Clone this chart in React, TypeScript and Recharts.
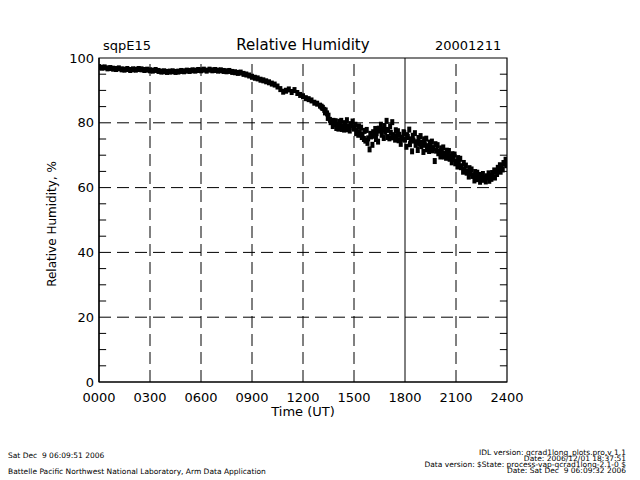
import React from "react";
import {
  ScatterChart,
  Scatter,
  XAxis,
  YAxis,
  ReferenceLine,
  ReferenceArea,
} from "recharts";

// Relative humidity, 10-minute samples from 00:00 to 24:00 (UT)
const rhMain: number[] = [
  97.2, 97.0, 97.1, 96.8, 96.9, 96.7,
  96.6, 96.8, 96.5, 96.4, 96.6, 96.3,
  96.5, 96.4, 96.6, 96.5, 96.3, 96.4,
  96.2, 96.1, 96.3, 96.0, 95.8, 95.9,
  95.7, 95.8, 95.9, 95.7, 95.8, 96.0,
  95.9, 96.1, 96.0, 96.2, 96.1, 96.3,
  96.2, 96.4, 96.1, 96.4, 96.2, 96.3,
  96.1, 96.2, 96.0, 95.9, 96.0, 95.7,
  95.6, 95.4, 95.5, 95.1, 94.9, 94.6,
  94.2, 93.9, 93.7, 93.3, 93.1, 92.8,
  92.5, 92.1, 91.8, 91.2, 90.4, 89.6,
  89.9, 90.3, 89.5, 90.1, 89.2, 88.6,
  88.2, 87.6, 87.3, 86.9, 86.2, 85.9,
  85.3, 84.6, 83.8, 82.2, 80.4, 79.6,
  79.2, 79.6, 78.8, 79.5, 78.9, 79.3,
  78.2, 77.6, 77.0, 76.4, 74.5, 75.2,
  75.8, 76.0, 76.8, 77.6, 77.9, 77.2,
  77.8, 76.9, 76.2, 75.8, 76.3, 75.4,
  74.8, 75.6, 74.9, 74.5, 74.0, 73.5,
  73.9, 73.2, 72.8, 72.9, 72.2, 71.4,
  71.2, 70.8, 70.4, 70.1, 69.5, 68.8,
  68.0, 67.4, 66.6, 65.6, 64.9, 64.4,
  63.8, 63.5, 63.2, 63.0, 62.9, 63.1,
  63.6, 64.2, 65.0, 65.8, 66.6, 67.4,
  68.3,
];
const mainStartHour = 0;

// Extra scattered samples (10-minute spacing) from 13:05 onward
const rhExtra: number[] = [
  85.0, 84.0, 82.9, 80.9, 79.0, 80.5,
  78.2, 80.6, 77.9, 80.8, 77.6, 80.4,
  79.4, 76.3, 78.5, 75.0, 77.8, 71.8,
  73.2, 78.1, 74.2, 79.4, 75.3, 80.6,
  75.2, 80.2, 74.8, 77.4, 73.5, 77.1,
  72.6, 77.9, 71.2, 76.8, 71.6, 75.9,
  71.0, 75.1, 71.3, 74.2, 68.2, 73.1,
  69.6, 72.4, 69.2, 71.3, 67.8, 70.2,
  66.5, 68.9, 64.9, 66.8, 63.4, 65.6,
  62.2, 64.6, 61.8, 64.2, 61.9, 64.4,
  62.7, 65.3, 64.2, 66.9, 65.6, 68.6,
];
const extraStartHour = 13 + 5 / 60;

// More scattered samples (10-minute spacing) from 13:07.5 onward
const rhExtra2: number[] = [
  84.7, 83.2, 81.5, 80.2, 80.6, 78.4,
  80.3, 78.1, 79.9, 78.0, 79.6, 78.6,
  76.8, 78.9, 75.6, 77.5, 73.8, 76.6,
  77.1, 75.0, 78.2, 76.3, 79.0, 75.6,
  78.9, 75.5, 77.7, 74.6, 75.1, 76.8,
  76.2, 73.4, 76.0, 73.2, 75.3, 72.8,
  74.9, 71.8, 73.9, 71.5, 73.4, 70.6,
  72.1, 69.6, 71.4, 68.9, 70.3, 67.5,
  69.1, 66.3, 67.6, 64.6, 66.0, 63.6,
  64.8, 62.6, 63.9, 62.4, 63.5, 62.1,
  64.5, 63.1, 66.1, 64.9, 67.6, 66.9,
];
const extra2StartHour = 13 + 7.5 / 60;
const sampleStepHours = 10 / 60;

const xTicks = [0, 3, 6, 9, 12, 15, 18, 21, 24];
const xTickLabels = ["0000", "0300", "0600", "0900", "1200", "1500", "1800", "2100", "2400"];
const yTicks = [0, 20, 40, 60, 80, 100];
const dashedHours = [3, 6, 9, 12, 15, 21];
const solidHours = [18];
const dashedRH = [20, 40, 60, 80];
const minorRH = [5, 10, 15, 25, 30, 35, 45, 50, 55, 65, 70, 75, 85, 90, 95];

const mainData = rhMain.map((v, i) => ({ t: mainStartHour + i * sampleStepHours, rh: v }));
const extraData = rhExtra.map((v, i) => ({ t: extraStartHour + i * sampleStepHours, rh: v }));
const extra2Data = rhExtra2.map((v, i) => ({ t: extra2StartHour + i * sampleStepHours, rh: v }));

const FONT = "'DejaVu Sans', sans-serif";

const Dot = (props: any) => {
  const { cx, cy } = props;
  if (cx == null || cy == null) return null;
  return <rect x={cx - 2} y={cy - 3} width={4} height={6} fill="#000" />;
};

const txt = (style: React.CSSProperties): React.CSSProperties => ({
  position: "absolute",
  fontFamily: FONT,
  color: "#000",
  whiteSpace: "pre",
  lineHeight: 1,
  ...style,
});

export default function App() {
  const tickLen = 0.42;
  return (
    <div style={{ position: "absolute", left: 0, top: 0, width: 640, height: 480, background: "#fff" }}>
      <ScatterChart
        width={640}
        height={480}
        margin={{ top: 58, right: 133, left: 39, bottom: 68 }}
      >
        <XAxis
          type="number"
          dataKey="t"
          domain={[0, 24]}
          ticks={xTicks}
          tickFormatter={(v: number) => xTickLabels[xTicks.indexOf(v)] ?? ""}
          tickLine={false}
          tickSize={0}
          tickMargin={11}
          height={30}
          axisLine={{ stroke: "#000", strokeWidth: 1.2 }}
          tick={{ fill: "#000", fontSize: 13, fontFamily: FONT }}
          interval={0}
          allowDataOverflow
        />
        <YAxis
          type="number"
          dataKey="rh"
          domain={[0, 100]}
          ticks={yTicks}
          tickLine={false}
          tickSize={0}
          tickMargin={5}
          width={60}
          axisLine={{ stroke: "#000", strokeWidth: 1.2 }}
          tick={{ fill: "#000", fontSize: 13, fontFamily: FONT }}
          interval={0}
          allowDataOverflow
        />
        <ReferenceArea x1={0} x2={24} y1={0} y2={100} fill="none" stroke="#000" strokeWidth={1.2} />
        {dashedHours.map((h) => (
          <ReferenceLine key={"dh" + h} x={h} stroke="#000" strokeDasharray="12 6" />
        ))}
        {solidHours.map((h) => (
          <ReferenceLine key={"sh" + h} x={h} stroke="#000" />
        ))}
        {dashedRH.map((v) => (
          <ReferenceLine key={"dr" + v} y={v} stroke="#000" strokeDasharray="12 6" />
        ))}
        {minorRH.map((v) => (
          <ReferenceLine
            key={"ml" + v}
            segment={[{ x: 0, y: v }, { x: tickLen, y: v }]}
            stroke="#000"
          />
        ))}
        {minorRH.map((v) => (
          <ReferenceLine
            key={"mr" + v}
            segment={[{ x: 24 - tickLen, y: v }, { x: 24, y: v }]}
            stroke="#000"
          />
        ))}
        <Scatter data={mainData} shape={<Dot />} isAnimationActive={false} />
        <Scatter data={extraData} shape={<Dot />} isAnimationActive={false} />
        <Scatter data={extra2Data} shape={<Dot />} isAnimationActive={false} />
      </ScatterChart>

      <div style={txt({ left: 103, top: 39, fontSize: 13 })}>sqpE15</div>
      <div style={txt({ left: 303, top: 38, fontSize: 15, transform: "translateX(-50%)" })}>Relative Humidity</div>
      <div style={txt({ left: 435, top: 39, fontSize: 13 })}>20001211</div>
      <div style={txt({ left: 303, top: 405, fontSize: 13, transform: "translateX(-50%)" })}>Time (UT)</div>
      <div
        style={txt({
          left: 52,
          top: 224,
          fontSize: 12,
          transform: "translate(-50%, -50%) rotate(-90deg)",
        })}
      >
        Relative Humidity, %
      </div>

      <div style={txt({ left: 8, top: 452, fontSize: 7.5 })}>Sat Dec  9 06:09:51 2006</div>
      <div style={txt({ left: 8, top: 468, fontSize: 7.5 })}>
        Battelle Pacific Northwest National Laboratory, Arm Data Application
      </div>
      <div style={txt({ right: 14, top: 450, fontSize: 7.5, textAlign: "right", lineHeight: "6px" } as any)}>
        {"IDL version: qcrad1long_plots.pro,v 1.1\nDate: 2006/12/01 18:37:51\nData version: $State: process-vap-qcrad1long-2.1-0 $\nDate: Sat Dec  9 06:09:32 2006"}
      </div>
    </div>
  );
}
